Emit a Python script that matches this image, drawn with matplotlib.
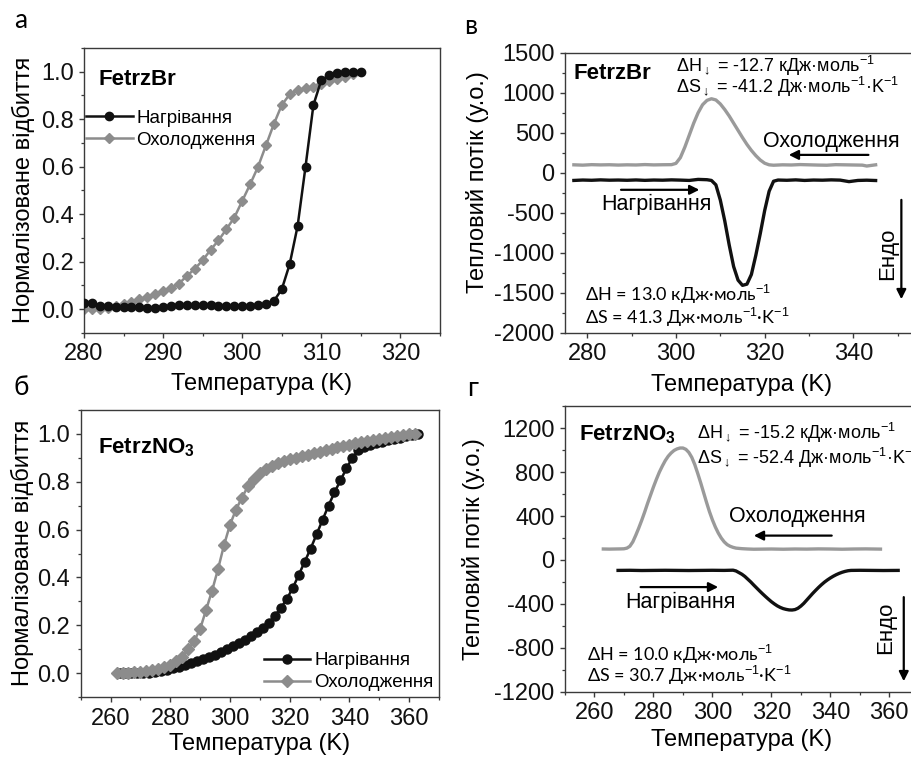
import matplotlib
import matplotlib.pyplot as plt
from matplotlib.ticker import MultipleLocator

matplotlib.use("Agg")

plt.rcParams["font.family"] = ["Liberation Sans", "DejaVu Sans"]
plt.rcParams["mathtext.fontset"] = "custom"
plt.rcParams["mathtext.rm"] = "Liberation Sans"
plt.rcParams["mathtext.it"] = "Liberation Sans:italic"
plt.rcParams["mathtext.bf"] = "Liberation Sans:bold"
plt.rcParams["axes.unicode_minus"] = False

W, H = 912, 758
BLACK = "#111111"
GRAY = "#8c8c8c"
LGRAY = "#9a9a9a"

# ---- panel а: FetrzBr, normalised reflectance
br_heat_t = [280, 281, 282, 283, 284, 285, 286, 287, 288, 289,
             290, 291, 292, 293, 294, 295, 296, 297, 298, 299,
             300, 301, 302, 303, 304, 305, 306, 307, 308, 309,
             310, 311, 312, 313, 314, 315]
br_heat_r = [0.025, 0.025, 0.014, 0.012, 0.010, 0.008, 0.008, 0.008, 0.006, 0.004,
             0.010, 0.014, 0.016, 0.016, 0.016, 0.016, 0.016, 0.015, 0.015, 0.015,
             0.014, 0.014, 0.016, 0.022, 0.035, 0.084, 0.19, 0.35, 0.60, 0.86,
             0.965, 0.985, 0.995, 0.998, 1.0, 1.0]
br_cool_t = [280, 281, 282, 283, 284, 285, 286, 287, 288, 289,
             290, 291, 292, 293, 294, 295, 296, 297, 298, 299,
             300, 301, 302, 303, 304, 305, 306, 307, 308, 309,
             310, 311, 312, 313, 314]
br_cool_r = [0.0, 0.0, 0.003, 0.007, 0.014, 0.02, 0.03, 0.042, 0.052, 0.066,
             0.077, 0.09, 0.108, 0.14, 0.17, 0.206, 0.25, 0.29, 0.337, 0.386,
             0.456, 0.526, 0.60, 0.69, 0.78, 0.86, 0.905, 0.922, 0.93, 0.937,
             0.947, 0.96, 0.97, 0.98, 0.99]

# ---- panel б: FetrzNO3, normalised reflectance
no3_heat_t = [263, 265, 267, 269, 271, 273, 275, 277, 279, 281,
              283, 285, 287, 289, 291, 293, 295, 297, 299, 301,
              303, 305, 307, 309, 311, 313, 315, 317, 319, 321,
              323, 325, 327, 329, 331, 333, 335, 337, 339, 341,
              343, 345, 347, 349, 351, 353, 355, 357, 359, 361, 363]
no3_heat_r = [0.0, 0.0, 0.0, 0.0, 0.001, 0.003, 0.006, 0.01, 0.015, 0.021,
              0.028, 0.035, 0.042, 0.05, 0.058, 0.067, 0.077, 0.088, 0.1, 0.113,
              0.126, 0.14, 0.155, 0.171, 0.19, 0.212, 0.24, 0.272, 0.31, 0.355,
              0.41, 0.465, 0.52, 0.58, 0.64, 0.70, 0.755, 0.805, 0.855, 0.90,
              0.93, 0.943, 0.952, 0.959, 0.966, 0.972, 0.978, 0.984, 0.99, 0.995, 1.0]
no3_cool_t = [262, 264, 266, 268, 270, 272, 274, 276, 278, 280,
              282, 284, 286, 288, 290, 292, 294, 296, 298, 300,
              302, 304, 306, 308, 310, 312, 314, 316, 318, 320,
              322, 324, 326, 328, 330, 332, 334, 336, 338, 340,
              342, 344, 346, 348, 350, 352, 354, 356, 358, 360, 362]
no3_cool_r = [0.0, 0.0, 0.002, 0.004, 0.007, 0.01, 0.014, 0.019, 0.026, 0.036,
              0.05, 0.07, 0.10, 0.135, 0.185, 0.265, 0.345, 0.435, 0.535, 0.62,
              0.683, 0.733, 0.78, 0.81, 0.835, 0.852, 0.865, 0.876, 0.885, 0.893,
              0.9, 0.907, 0.913, 0.919, 0.925, 0.931, 0.937, 0.943, 0.949, 0.954,
              0.959, 0.964, 0.969, 0.974, 0.978, 0.982, 0.986, 0.99, 0.994, 0.997, 1.0]

# ---- panel в: FetrzBr, DSC heat flow
dsc_br_cool_t = [277, 279, 281, 283, 285, 287, 289, 291, 293, 295, 297, 299,
                 300, 301, 302, 303, 304, 305, 306, 307, 308, 309, 310, 311,
                 312, 313, 314, 315, 316, 317, 318, 319, 320, 321, 322,
                 324, 326, 328, 330, 332, 334, 336, 338, 340, 342, 343, 345]
dsc_br_cool_q = [100, 96, 102, 99, 101, 97, 100, 98, 103, 99, 101, 102,
                 118, 190, 320, 470, 620, 750, 850, 905, 925, 910, 860, 790,
                 710, 620, 530, 440, 355, 280, 215, 160, 120, 100, 95,
                 100, 98, 103, 100, 97, 95, 102, 100, 98, 96, 85, 100]
dsc_br_heat_t = [277, 279, 281, 283, 285, 287, 289, 291, 293, 295, 297, 299,
                 301, 303, 305, 307, 308, 309, 310, 311, 312, 313, 314, 315,
                 316, 317, 318, 319, 320, 321, 322, 323, 325, 327, 329, 331,
                 333, 335, 337, 339, 341, 343, 345]
dsc_br_heat_q = [-95, -90, -93, -88, -92, -90, -93, -89, -94, -90, -92, -88,
                 -91, -95, -82, -86, -95, -150, -340, -600, -900, -1170, -1340, -1405,
                 -1390, -1270, -1030, -760, -470, -230, -105, -90, -93, -88, -95, -90,
                 -92, -88, -91, -110, -95, -92, -96]

# ---- panel г: FetrzNO3, DSC heat flow
dsc_no3_cool_t = [263, 265, 267, 269, 270, 271, 272, 273, 274, 275, 276, 277,
                  278, 279, 280, 281, 282, 283, 284, 285, 286, 287, 288, 289,
                  290, 291, 292, 293, 294, 295, 296, 297, 298, 299, 300, 301,
                  302, 303, 304, 305, 306, 307, 308, 310, 312, 314, 317, 320,
                  324, 328, 332, 336, 340, 344, 348, 352, 357]
dsc_no3_cool_q = [100, 99, 100, 101, 102, 108, 125, 165, 225, 290, 360, 435,
                  515, 590, 665, 735, 800, 855, 905, 945, 975, 998, 1012, 1020,
                  1020, 1008, 980, 935, 870, 790, 705, 615, 525, 440, 365, 300,
                  245, 200, 165, 140, 125, 115, 108, 103, 100, 98, 99, 100,
                  98, 100, 99, 101, 100, 98, 100, 101, 99]
dsc_no3_heat_t = [268, 272, 276, 280, 284, 288, 292, 296, 300, 304, 307,
                  308, 309, 310, 311, 312, 313, 314, 315, 316, 317,
                  318, 319, 320, 321, 322, 323, 324, 325, 326, 327,
                  328, 329, 330, 331, 332, 333, 334, 335, 336, 337,
                  338, 339, 340, 341, 342, 343, 344, 345, 346, 347,
                  350, 354, 358, 363]
dsc_no3_heat_q = [-95, -94, -96, -95, -94, -95, -96, -95, -94, -95, -93,
                  -100, -115, -130, -150, -175, -200, -228, -255, -282, -308,
                  -333, -357, -380, -400, -418, -432, -443, -450, -455, -456,
                  -452, -440, -420, -395, -365, -335, -305, -277, -250, -225,
                  -202, -182, -164, -148, -134, -122, -112, -104, -98, -95,
                  -94, -95, -96, -95]

LEG_HEAT = "Нагрівання"
LEG_COOL = "Охолодження"
XLABEL = "Температура (K)"
YLABEL_R = "Нормалізоване відбиття"
YLABEL_Q = "Тепловий потік (у.о.)"


def px_axes(fig, left, top, right, bottom):
    return fig.add_axes([left / W, 1 - bottom / H, (right - left) / W, (bottom - top) / H])


def style(ax, xmaj, xmin, ymaj, ymin):
    for s in ax.spines.values():
        s.set_color("#3a3a3a")
        s.set_linewidth(1.0)
    ax.xaxis.set_major_locator(MultipleLocator(xmaj))
    ax.xaxis.set_minor_locator(MultipleLocator(xmin))
    ax.yaxis.set_major_locator(MultipleLocator(ymaj))
    ax.yaxis.set_minor_locator(MultipleLocator(ymin))
    ax.tick_params(which="both", direction="out", colors="#3a3a3a", labelcolor="#111111",
                   labelsize=17, top=False, right=False)
    ax.tick_params(which="major", length=3.5, width=1.0, pad=4)
    ax.tick_params(which="minor", length=2.5, width=0.9)


fig = plt.figure(figsize=(W / 100, H / 100), dpi=100)

# а
ax1 = px_axes(fig, 84, 48, 440, 333)
ax1.plot(br_heat_t, br_heat_r, "-o", color=BLACK, lw=1.8, ms=6, label=LEG_HEAT, zorder=3)
ax1.plot(br_cool_t, br_cool_r, "-D", color=GRAY, lw=1.8, ms=5.5, label=LEG_COOL, zorder=2)
ax1.set_xlim(280, 325)
ax1.set_ylim(-0.1, 1.1)
style(ax1, 10, 5, 0.2, 0.1)
ax1.text(281.8, 0.966, "FetrzBr", fontsize=16, fontweight="bold", va="center", ha="left")
ax1.legend(loc="upper left", bbox_to_anchor=(0.0, 0.79), frameon=False, fontsize=13.5,
           handlelength=2.5, handletextpad=0.2, labelspacing=0.25, borderpad=0.1,
           borderaxespad=0.0)

# в
ax2 = px_axes(fig, 565, 52.7, 920, 333)
ax2.plot(dsc_br_cool_t, dsc_br_cool_q, color=LGRAY, lw=2.4)
ax2.plot(dsc_br_heat_t, dsc_br_heat_q, color=BLACK, lw=2.4)
ax2.set_xlim(275, 355)
ax2.set_ylim(-2000, 1500)
style(ax2, 20, 10, 500, 250)
ax2.text(277, 1243, "FetrzBr", fontsize=16, fontweight="bold", va="center", ha="left")
ax2.text(300, 1338, "ΔH$_{\\downarrow}$ = -12.7 кДж·моль$^{-1}$", fontsize=13, va="center")
ax2.text(300, 1076, "ΔS$_{\\downarrow}$ = -41.2 Дж·моль$^{-1}$·K$^{-1}$", fontsize=13, va="center")
ax2.text(335, 395, LEG_COOL, fontsize=15.5, ha="center", va="center")
ax2.annotate("", xy=(324.8, 224), xytext=(344, 224),
             arrowprops=dict(arrowstyle="-|>", color="k", lw=1.6, mutation_scale=14))
ax2.text(295.7, -395, LEG_HEAT, fontsize=15.5, ha="center", va="center")
ax2.annotate("", xy=(305.9, -212), xytext=(287, -212),
             arrowprops=dict(arrowstyle="-|>", color="k", lw=1.6, mutation_scale=14))
ax2.text(347.8, -1010, "Ендо", fontsize=16, rotation=90, ha="center", va="center")
ax2.annotate("", xy=(350.8, -1613), xytext=(350.8, -303),
             arrowprops=dict(arrowstyle="-|>", color="k", lw=1.6, mutation_scale=14))
ax2.text(279.5, -1521, "ΔH = 13.0 кДж·моль$^{-1}$", fontsize=13,
         family=["Lato", "DejaVu Sans"], va="center")
ax2.text(279.5, -1800, "ΔS = 41.3 Дж·моль$^{-1}$·K$^{-1}$", fontsize=13,
         family=["Lato", "DejaVu Sans"], va="center")

# б
ax3 = px_axes(fig, 80.7, 409.7, 439, 697.3)
ax3.plot(no3_heat_t, no3_heat_r, "-o", color=BLACK, lw=1.8, ms=6.5, label=LEG_HEAT, zorder=2)
ax3.plot(no3_cool_t, no3_cool_r, "-D", color=GRAY, lw=1.8, ms=6, label=LEG_COOL, zorder=3)
ax3.set_xlim(250, 370)
ax3.set_ylim(-0.1, 1.1)
style(ax3, 20, 10, 0.2, 0.1)
ax3.text(255.8, 0.94, "FetrzNO$_\\mathbf{3}$", fontsize=16, fontweight="bold",
         va="center", ha="left")
ax3.legend(loc="lower left", bbox_to_anchor=(0.505, 0.015), frameon=False, fontsize=13.5,
           handlelength=2.5, handletextpad=0.2, labelspacing=0.25, borderpad=0.1,
           borderaxespad=0.0)

# г
ax4 = px_axes(fig, 565, 406.3, 918.8, 691.7)
ax4.plot(dsc_no3_cool_t, dsc_no3_cool_q, color=LGRAY, lw=2.4)
ax4.plot(dsc_no3_heat_t, dsc_no3_heat_q, color=BLACK, lw=2.4)
ax4.set_xlim(250, 370)
ax4.set_ylim(-1200, 1400)
style(ax4, 20, 10, 400, 200)
ax4.text(254.7, 1139, "FetrzNO$_\\mathbf{3}$", fontsize=16, fontweight="bold",
         va="center", ha="left")
ax4.text(294.7, 1155, "ΔH$_{\\downarrow}$ = -15.2 кДж·моль$^{-1}$", fontsize=13, va="center")
ax4.text(294.7, 928, "ΔS$_{\\downarrow}$ = -52.4 Дж·моль$^{-1}$·K$^{-1}$", fontsize=13, va="center")
ax4.text(328.9, 398, LEG_COOL, fontsize=15.5, ha="center", va="center")
ax4.annotate("", xy=(313.1, 222), xytext=(341.4, 222),
             arrowprops=dict(arrowstyle="-|>", color="k", lw=1.6, mutation_scale=14))
ax4.text(289, -383, LEG_HEAT, fontsize=15.5, ha="center", va="center")
ax4.annotate("", xy=(302.9, -247), xytext=(274.7, -247),
             arrowprops=dict(arrowstyle="-|>", color="k", lw=1.6, mutation_scale=14))
ax4.text(358.9, -616, "Ендо", fontsize=16, rotation=90, ha="center", va="center")
ax4.annotate("", xy=(364.9, -1130), xytext=(364.9, -313),
             arrowprops=dict(arrowstyle="-|>", color="k", lw=1.6, mutation_scale=14))
ax4.text(257.4, -858, "ΔH = 10.0 кДж·моль$^{-1}$", fontsize=13,
         family=["Lato", "DejaVu Sans"], va="center")
ax4.text(257.4, -1055, "ΔS = 30.7 Дж·моль$^{-1}$·K$^{-1}$", fontsize=13,
         family=["Lato", "DejaVu Sans"], va="center")

# axis labels and panel letters, placed in pixels
def ftext(x, y, s, **kw):
    fig.text(x / W, 1 - y / H, s, ha="center", va="center", **kw)

ftext(262, 384, XLABEL, fontsize=17)
ftext(742, 385, XLABEL, fontsize=17)
ftext(260, 744, XLABEL, fontsize=17)
ftext(742, 740, XLABEL, fontsize=17)
ftext(23, 190, YLABEL_R, fontsize=17, rotation=90)
ftext(22, 553, YLABEL_R, fontsize=17, rotation=90)
ftext(478, 182, YLABEL_Q, fontsize=17, rotation=90)
ftext(474, 549, YLABEL_Q, fontsize=17, rotation=90)

for lx, ly, letter in [(21, 21, "а"), (471, 27, "в"), (21, 387, "б"), (473, 389, "г")]:
    ftext(lx, ly, letter, fontsize=19, family=["Lato", "DejaVu Sans"])

fig.savefig("out.png", dpi=100)
